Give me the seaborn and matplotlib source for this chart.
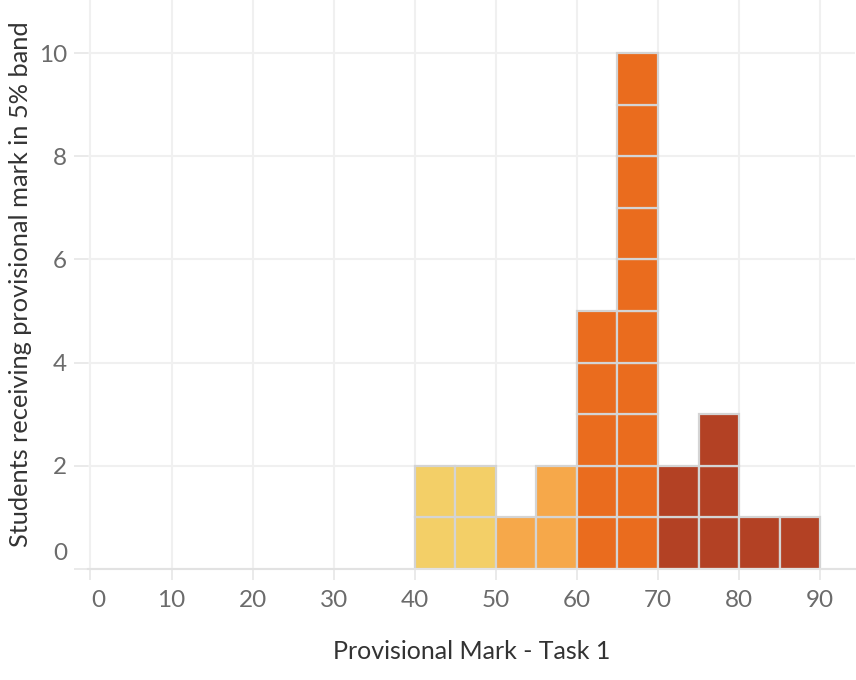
import numpy as np
import pandas as pd
import seaborn as sns
import matplotlib.pyplot as plt
from matplotlib.transforms import ScaledTranslation

# students per 5% band (band start mark)
band_start = [40, 45, 50, 55, 60, 65, 70, 75, 80, 85]
counts = [2, 2, 1, 2, 5, 10, 2, 3, 1, 1]
grade = ['40s', '40s', '50s', '50s', '60s', '60s', '70+', '70+', '70+', '70+']
grade_colors = {'40s': '#F3CF67', '50s': '#F6A84A', '60s': '#EA6C1E', '70+': '#B34124'}

x_ticks = list(range(0, 100, 10))
y_ticks = [0, 2, 4, 6, 8, 10]

# one row per student, stacked in its band
rows = []
for b, n, g in zip(band_start, counts, grade):
    for k in range(n):
        rows.append({'band': b, 'level': k, 'grade': g})
students = pd.DataFrame(rows)

sns.set_theme(style='white')
plt.rcParams['font.family'] = ['Lato', 'DejaVu Sans']

fig = plt.figure(figsize=(8.56, 6.8), dpi=100)
ax = fig.add_axes([88 / 856, 111 / 680, 767 / 856, 569 / 680])

ax.bar(students['band'] + 2.5, 1, width=5, bottom=students['level'],
       color=students['grade'].map(grade_colors), edgecolor='#D4D4D4',
       linewidth=1.6, zorder=3)

ax.set_xlim(-0.3, 94.3)
ax.set_ylim(0, 11.03)
ax.set_xticks(x_ticks)
ax.set_yticks(y_ticks)
ax.grid(True, color='#F0F0F0', linewidth=1.5, zorder=0)
for s in ['left', 'right', 'top']:
    ax.spines[s].set_visible(False)
ax.spines['bottom'].set_color('#E2E2E2')
ax.spines['bottom'].set_linewidth(1.5)
ax.spines['bottom'].set_zorder(4)

ax.tick_params(axis='both', which='both', length=10, width=1.2, color='#E6E6E6',
               labelsize=17.5, labelcolor='#6B6B6B', pad=5, left=True, bottom=True)
ax.tick_params(axis='x', length=8, pad=7)

# Tableau nudges the edge labels inward
lab0y = ax.get_yticklabels()[0]
lab0y.set_transform(lab0y.get_transform() + ScaledTranslation(0, 0.18, fig.dpi_scale_trans))
lab0x = ax.get_xticklabels()[0]
lab0x.set_transform(lab0x.get_transform() + ScaledTranslation(0.08, 0, fig.dpi_scale_trans))

ax.set_xlabel('Provisional Mark - Task 1', fontsize=18, color='#333333', labelpad=21)
ax.set_ylabel('Students receiving provisional mark in 5% band', fontsize=18.3,
              color='#333333', labelpad=5)

fig.savefig('out.png', dpi=100)
